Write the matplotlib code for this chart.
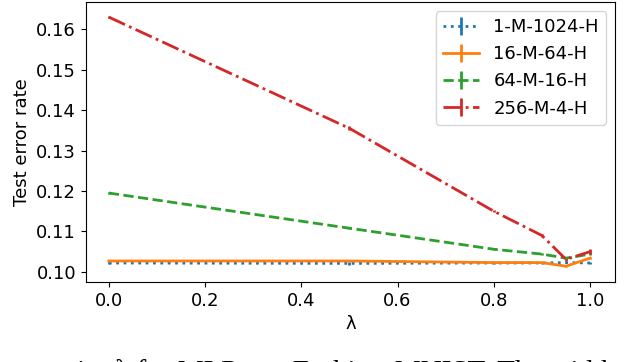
import matplotlib
matplotlib.use('Agg')
import matplotlib.pyplot as plt
import numpy as np

# lambda values and test error rates
lam = [0.0, 0.5, 0.8, 0.9, 0.95, 1.0]
err_1m1024 = [0.1022, 0.1021, 0.1022, 0.1022, 0.1023, 0.1022]
err_16m64 = [0.1027, 0.1027, 0.1023, 0.1023, 0.1014, 0.1034]
err_64m16 = [0.1195, 0.1108, 0.1056, 0.1044, 0.1034, 0.1044]
err_256m4 = [0.1630, 0.1355, 0.1150, 0.1090, 0.1031, 0.1050]
std_1m1024 = [0.0003, 0.0003, 0.0002, 0.0002, 0.0002, 0.0003]
std_16m64 = [0.0003, 0.0002, 0.0002, 0.0002, 0.0002, 0.0003]
std_64m16 = [0.0002, 0.0002, 0.0002, 0.0002, 0.0002, 0.0003]
std_256m4 = [0.0003, 0.0005, 0.0002, 0.0003, 0.0003, 0.0006]
labels = ['1-M-1024-H', '16-M-64-H', '64-M-16-H', '256-M-4-H']

fig = plt.figure(figsize=(6.4, 3.62), dpi=100)
ax = fig.add_axes([0.134, 0.221, 0.827, 0.773])

ax.errorbar(lam, err_1m1024, yerr=std_1m1024, ls=':', lw=2, color='tab:blue', label=labels[0])
ax.errorbar(lam, err_16m64, yerr=std_16m64, ls='-', lw=2, color='tab:orange', label=labels[1])
ax.errorbar(lam, err_64m16, yerr=std_64m16, ls='--', lw=2, color='tab:green', label=labels[2])
ax.errorbar(lam, err_256m4, yerr=std_256m4, ls='-.', lw=2, color='tab:red', label=labels[3])

ax.set_ylim(0.0975, 0.1667)
ax.set_xlim(-0.048, 1.052)
ax.set_yticks([0.10, 0.11, 0.12, 0.13, 0.14, 0.15, 0.16])
ax.tick_params(labelsize=13)
ax.set_xlabel('λ', fontsize=13)
ax.set_ylabel('Test error rate', fontsize=13)
ax.legend(loc='upper right', fontsize=13)

# caption of the paper, cut off by the bottom edge as in the source
fig.text(0.075, -0.05, 'point λ for MLPs on Fashion-MNIST. The width',
         family='Liberation Serif', fontsize=21, ha='left', va='baseline')

fig.savefig('out.png', dpi=100)
